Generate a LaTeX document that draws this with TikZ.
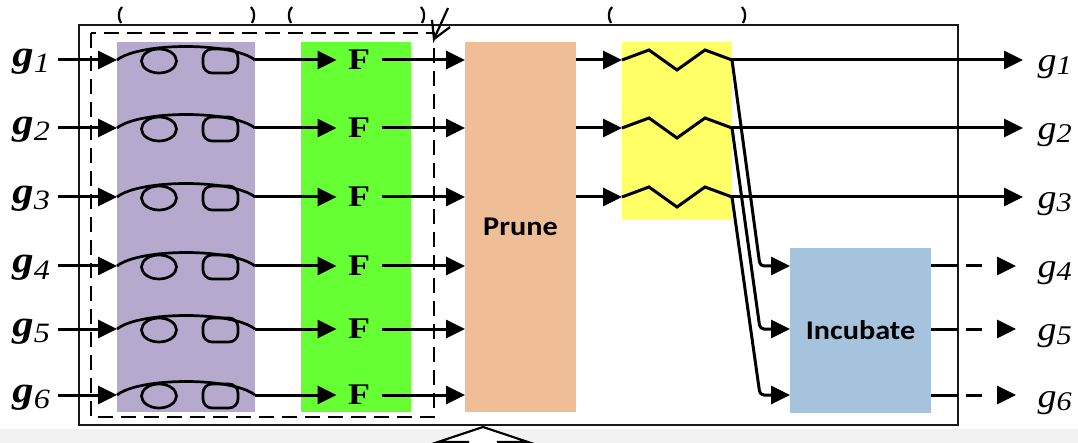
\documentclass[tikz,border=0pt]{standalone}
\usepackage{fontspec}
\setmainfont{Liberation Serif}
\newfontfamily\calib{Carlito}
\usetikzlibrary{arrows.meta}
\definecolor{cpurple}{RGB}{181,170,205}
\definecolor{cgreen}{RGB}{102,255,51}
\definecolor{corange}{RGB}{240,190,150}
\definecolor{cyellow}{RGB}{255,255,102}
\definecolor{cblue}{RGB}{166,195,221}
\newcommand{\glabL}[1]{\scalebox{1.15}[1]{\fontsize{37}{37}\selectfont\bfseries\itshape g\raisebox{-6pt}{\fontsize{28}{28}\selectfont\mdseries #1}}}
\newcommand{\glabR}[1]{\scalebox{1.12}[1]{\fontsize{34}{34}\selectfont\itshape g\raisebox{-3pt}{\fontsize{27}{27}\selectfont #1}}}
\begin{document}
\begin{tikzpicture}[x=1pt,y=-1pt,line width=3pt,
  arr/.style={-{Triangle[length=19pt,width=18pt]}},
  blk/.style={draw=none,inner sep=0pt,outer sep=0pt,anchor=north west},
  ftext/.style={inner xsep=10pt,inner ysep=0pt,font=\fontsize{30}{30}\selectfont\bfseries},
  btext/.style={font=\calib\fontsize{27}{27}\selectfont\bfseries},
  tmark/.style={line width=2.2pt}]
\useasboundingbox (0,0) rectangle (1078,443);
\fill[gray!10] (0,429) rectangle (1078,443);
% outer and dashed frames
\draw[line width=2.5pt,black!90] (79,25) rectangle (958,425);
\draw[line width=2.2pt,dash pattern=on 15pt off 8pt] (91,33) rectangle (434,417);
% boxes
\node[blk,fill=cpurple,minimum width=138pt,minimum height=370pt] (P) at (117,42) {};
\node[blk,fill=cgreen,minimum width=110pt,minimum height=370pt] (G) at (301,42) {};
\node[blk,fill=corange,minimum width=111pt,minimum height=370pt] (O) at (465,42) {};
\node[btext] at (O.center) {\scalebox{1.12}[1]{Prune}};
\node[blk,fill=cyellow,minimum width=110pt,minimum height=178pt] (Y) at (622,42) {};
\node[blk,fill=cblue,minimum width=141pt,minimum height=165pt] (B) at (790,248) {};
\node[btext] at (B.center) {\scalebox{1.12}[1]{Incubate}};
% top marks
\draw[tmark] (122,7) .. controls (118,11) and (118,18) .. (121,23);
\draw[tmark] (251,7) .. controls (255,11) and (255,18) .. (252,23);
\draw[tmark] (292,7) .. controls (288,11) and (288,18) .. (291,23);
\draw[tmark] (421,7) .. controls (425,11) and (425,18) .. (422,23);
\draw[tmark] (612,7) .. controls (608,11) and (608,18) .. (611,23);
\draw[tmark] (742,7) .. controls (746,11) and (746,18) .. (743,23);
\draw[tmark] (432,20) -- (434,39) -- (448,8);
\draw[tmark] (434,39) -- (450,27);
% rows
\foreach \i/\y in {1/60,2/128,3/197,4/266,5/329,6/395}{
  \coordinate (in\i) at (58,\y);
  \node[anchor=base west,inner sep=0pt] (L\i) at (11,\y+7) {\glabL{\i}};
  \node[ftext] (F\i) at (359,\y) {\scalebox{1.2}[1]{F}};
  \draw[arr] (in\i) -- (P.west |- in\i);
  \draw[line width=2.7pt] (117,\y) .. controls (140,\y-18) and (232,\y-18) .. (255,\y);
  \draw[line width=2.7pt] (159,\y+1) ellipse [x radius=17.5pt, y radius=12pt];
  \draw[line width=2.7pt,rounded corners=9pt] (203,\y-11) rectangle (238,\y+13);
  \draw[arr] (P.east |- in\i) -- (F\i.west);
  \draw[arr] (F\i.east) -- (O.west |- in\i);
}
\foreach \i/\y in {1/60,2/128,3/197}{
  \coordinate (z\i) at (Y.east |- in\i);
  \coordinate (out\i) at (1023,\y);
  \node[anchor=base west,inner sep=0pt] (R\i) at (1036,\y+12) {\glabR{\i}};
  \draw[arr] (O.east |- in\i) -- (Y.west |- in\i);
  \draw (622,\y) -- (649,\y-10) -- (677,\y+10) -- (705,\y-10) -- (z\i);
  \draw[arr] (z\i) -- (out\i);
}
\foreach \i/\j/\yb in {1/4/266,2/5/329,3/6/395}{
  \draw[arr,rounded corners=4pt] (z\i) -- (760,\yb) -- (B.west |- in\j);
  \node[anchor=base west,inner sep=0pt] (R\j) at (1036,\yb+12) {\glabR{\j}};
  \coordinate (d\j) at (966,\yb);
  \coordinate (out\j) at (1016,\yb);
  \draw (B.east |- in\j) -- (958,\yb);
  \draw[arr,dash pattern=on 16pt off 20pt] (d\j) -- (out\j);
}
% bottom hollow arrow
\draw[line width=2.2pt,fill=white] (468,452) -- (468,442) -- (438,442) -- (483,427) -- (528,442) -- (498,442) -- (498,452);
\end{tikzpicture}
\end{document}
